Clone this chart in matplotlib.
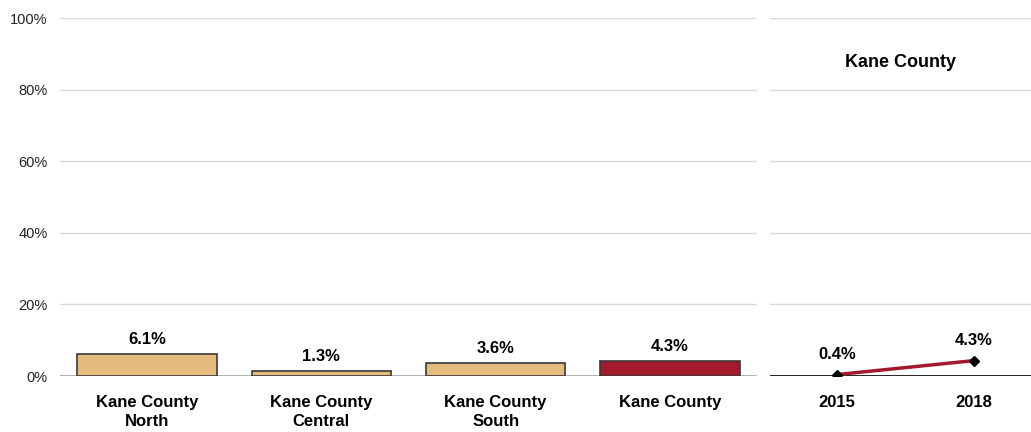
import matplotlib
matplotlib.use('Agg')
import matplotlib.pyplot as plt
from matplotlib.ticker import FuncFormatter

plt.rcParams['font.family'] = ['Liberation Sans', 'DejaVu Sans']

# data
regions = ['Kane County\nNorth', 'Kane County\nCentral', 'Kane County\nSouth', 'Kane County']
region_vals = [6.1, 1.3, 3.6, 4.3]
years = ['2015', '2018']
trend_vals = [0.4, 4.3]
trend_title = 'Kane County'

tan = '#E6BC7E'
red = '#A31A2E'

fig = plt.figure(figsize=(10.31, 4.32), dpi=100)
ax = fig.add_axes([60/1031, 1 - 376/432, 697/1031, 358/432])
ax2 = fig.add_axes([770/1031, 1 - 376/432, 261/1031, 358/432])

colors = [tan, tan, tan, red]
x = range(len(regions))
ax.bar(x, region_vals, width=0.8, color=colors, edgecolor='#3a3a3a', linewidth=1.2, zorder=3)
for i, v in enumerate(region_vals):
    ax.annotate(f'{v:.1f}%', (i, v), xytext=(0, 5), textcoords='offset points',
                ha='center', va='bottom', fontsize=12, fontweight='bold')
ax.set_xlim(-0.5, len(regions) - 0.5)
ax.set_xticks(list(x))
ax.set_xticklabels(regions, fontsize=12, fontweight='bold', linespacing=1.3)

ax2.plot(range(len(years)), trend_vals, color=red, linewidth=2.5, marker='D',
         markersize=5, markerfacecolor='black', markeredgecolor='black', zorder=3)
for i, v in enumerate(trend_vals):
    ax2.annotate(f'{v:.1f}%', (i, v), xytext=(0, 9), textcoords='offset points',
                 ha='center', va='bottom', fontsize=12, fontweight='bold')
ax2.set_xlim(-0.489, 1.416)
ax2.set_xticks(range(len(years)))
ax2.set_xticklabels(years, fontsize=12, fontweight='bold')
ax2.text(0.5, 0.877, trend_title, transform=ax2.transAxes, ha='center', va='center',
         fontsize=13, fontweight='bold')

for a in (ax, ax2):
    a.set_ylim(0, 100)
    a.set_yticks(range(0, 101, 20))
    a.grid(axis='y', color='#d9d9d9', linewidth=1, zorder=0)
    for s in a.spines.values():
        s.set_visible(False)
    a.tick_params(axis='both', length=0)
    a.tick_params(axis='x', pad=14)

ax.yaxis.set_major_formatter(FuncFormatter(lambda v, p: f'{v:.0f}%'))
ax.tick_params(axis='y', labelsize=10.5, pad=9, colors='#222222')
ax.axhline(0, color='#a6a6a6', linewidth=1.2, zorder=2)
ax2.set_yticklabels([])
ax2.axhline(0, color='black', linewidth=1.2, zorder=2)

fig.savefig('out.png', dpi=100)
